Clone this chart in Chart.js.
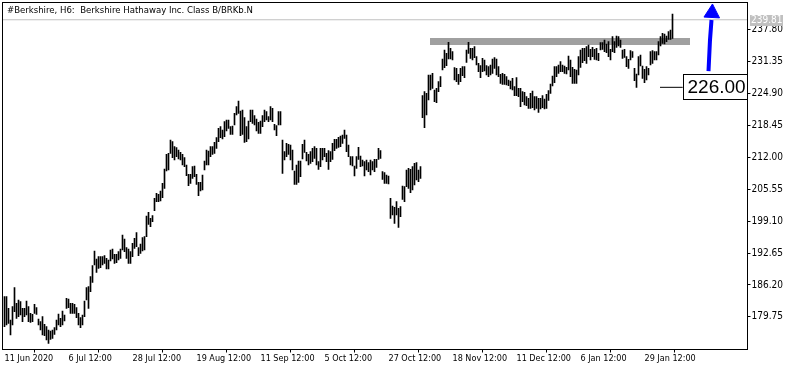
<!DOCTYPE html>
<html><head><meta charset="utf-8">
<script src="https://cdn.jsdelivr.net/npm/chart.js@4.4.0/dist/chart.umd.min.js"></script>
<style>html,body{margin:0;padding:0;background:#fff;}#wrap{width:795px;height:370px;}</style>
</head><body><div id="wrap"><canvas id="c" width="795" height="370"></canvas></div>
<script>
const titleText = "#Berkshire, H6:  Berkshire Hathaway Inc. Class B/BRKb.N";
const lows = [
177.76,178.09,178.43,176.07,178.09,180.79,179.44,179.78,180.12,178.77,
179.78,180.12,178.77,178.63,178.77,180.45,180.25,178.09,177.08,176.07,
175.94,175.06,174.39,175.20,175.40,176.21,177.08,178.09,177.76,178.09,
178.90,181.46,181.60,180.45,180.45,180.45,179.58,178.09,177.56,178.09,
179.78,183.15,181.46,184.83,186.72,190.23,188.74,189.55,189.69,190.23,
190.56,189.42,189.42,191.03,191.44,190.56,190.70,191.24,191.57,193.26,
192.92,191.57,190.56,190.56,191.91,193.59,193.93,192.11,192.58,193.06,
193.26,195.95,198.45,197.97,198.98,201.21,203.03,203.03,203.17,203.84,
205.73,209.23,209.43,212.80,211.93,211.45,212.13,211.66,211.45,210.44,
210.11,208.29,206.26,206.74,207.75,208.09,206.54,204.25,205.19,205.39,
209.43,210.44,210.44,212.13,212.60,212.80,213.81,215.16,215.97,215.70,
216.17,217.32,217.86,216.65,216.65,218.53,220.55,220.89,216.37,216.65,
215.03,215.16,215.70,219.20,218.87,218.53,217.32,216.85,216.85,218.19,
219.20,219.54,219.20,219.54,219.20,217.52,216.37,218.53,218.53,208.76,
211.45,212.13,212.60,211.45,209.43,206.54,206.54,206.94,208.09,211.66,
213.00,211.25,210.44,210.78,211.12,211.79,210.44,209.57,210.10,211.45,
212.13,211.12,209.57,211.12,211.59,213.34,213.81,214.01,214.15,214.82,
215.83,213.14,212.13,210.44,210.24,208.22,209.77,211.59,210.10,210.24,
208.22,209.43,209.09,208.42,209.43,209.09,209.97,211.59,211.79,207.54,
206.73,206.73,206.60,199.66,200.33,198.65,200.33,197.84,199.99,203.50,
203.03,206.06,205.72,204.85,205.39,206.40,207.41,207.07,207.74,220.01,
217.99,220.55,223.59,225.61,225.95,223.25,223.05,225.27,226.28,229.65,
230.12,230.53,231.88,231.88,231.67,227.63,227.29,226.75,227.29,228.51,
228.10,231.20,233.02,232.01,231.67,232.15,230.66,229.32,228.10,229.32,
229.45,228.64,228.30,228.64,228.98,229.99,228.64,228.30,226.96,226.75,
226.75,226.62,226.49,225.81,225.61,224.46,224.46,224.26,222.24,223.25,
222.58,222.44,221.90,221.90,222.04,221.56,221.90,221.09,221.77,222.04,
221.77,221.90,223.50,224.93,226.41,227.09,228.30,228.98,229.31,229.31,
228.98,228.84,229.65,228.30,226.96,226.96,226.96,228.64,230.19,231.13,
231.54,231.00,232.35,231.67,232.35,231.81,231.67,231.54,233.70,233.83,
233.36,233.15,232.35,231.67,233.36,233.15,234.23,234.50,234.23,232.01,
232.21,230.33,229.99,231.67,232.21,227.50,226.15,228.64,230.46,227.97,
227.09,227.63,228.64,230.66,231.00,231.67,231.67,232.68,234.50,235.04,
234.91,235.38,235.85,235.85,236.05
];
const highs = [
183.82,183.82,181.46,179.11,181.80,185.64,182.47,183.15,182.81,181.46,
181.46,182.95,181.80,180.45,180.25,182.27,181.60,179.31,178.77,179.78,
178.23,177.76,177.08,176.88,177.08,177.56,179.11,180.32,179.44,180.92,
180.12,183.49,183.35,182.47,182.47,182.27,181.60,180.45,179.58,180.12,
182.95,185.64,185.85,187.87,190.09,193.06,191.44,191.91,191.91,191.91,
192.11,191.57,191.24,193.26,193.46,192.38,192.38,192.92,193.46,196.29,
195.48,193.73,193.46,192.92,194.61,195.62,196.76,193.73,194.47,195.75,
195.95,200.13,200.87,199.66,200.20,203.70,204.72,204.51,205.19,206.74,
209.63,212.60,212.80,215.50,215.16,214.15,213.95,213.48,213.00,212.60,
211.93,210.44,208.56,208.56,210.11,210.24,208.56,206.94,206.94,208.42,
211.25,213.48,213.27,214.15,214.15,215.03,215.97,217.86,218.19,217.52,
219.20,219.54,219.54,218.19,218.33,220.89,222.24,223.38,221.36,221.56,
220.01,218.19,219.34,221.56,221.56,220.42,219.74,219.07,219.34,220.42,
221.56,221.23,220.22,222.24,221.90,218.67,218.40,221.23,221.23,215.50,
213.14,214.82,214.62,214.49,213.48,209.23,210.44,211.25,211.25,214.62,
215.50,213.00,212.60,213.14,213.81,214.15,213.81,211.12,213.81,213.81,
213.81,212.80,213.34,213.14,214.82,215.63,215.63,216.04,216.31,216.51,
217.52,216.51,214.49,212.13,212.13,210.24,212.13,214.01,212.26,211.45,
211.12,211.45,210.91,211.45,211.12,211.59,211.59,213.81,213.34,209.09,
208.89,208.42,208.22,203.70,202.15,201.88,203.03,201.68,202.02,206.19,
206.06,209.43,209.77,209.57,210.10,210.78,210.91,209.43,210.10,224.46,
225.27,224.93,228.64,228.64,228.98,225.61,225.95,227.29,228.30,231.88,
233.70,233.02,235.25,234.03,233.36,230.12,229.99,228.78,229.99,230.33,
230.33,233.70,235.25,234.03,234.03,234.37,232.35,231.00,230.53,232.01,
231.67,230.53,230.33,230.66,231.88,232.15,231.88,230.33,228.78,228.98,
228.78,228.30,227.63,227.43,227.97,226.28,228.10,225.95,225.95,225.27,
225.14,224.26,223.92,224.93,225.41,224.26,224.26,223.92,223.92,224.46,
223.79,224.73,225.50,226.82,228.44,230.33,230.33,230.66,231.34,230.66,
230.46,230.19,232.48,231.67,230.19,229.78,229.65,232.35,233.70,234.03,
234.03,234.37,234.71,233.83,234.23,233.83,234.03,233.02,235.18,235.18,
235.72,234.91,235.38,233.83,236.39,235.38,236.52,236.39,235.72,233.70,
233.83,232.35,231.81,233.56,233.36,229.99,228.84,232.35,232.68,230.46,
229.78,230.33,229.99,233.36,233.56,233.36,233.36,235.38,236.39,237.06,
236.93,236.52,237.40,237.74,240.97
];
const xTickIdx = [-1,31,63,95,127,159,191,223,255,287,319];
const xTickLabels = ["11 Jun 2020","6 Jul 12:00","28 Jul 12:00","19 Aug 12:00","11 Sep 12:00","5 Oct 12:00","27 Oct 12:00","18 Nov 12:00","11 Dec 12:00","6 Jan 12:00","29 Jan 12:00"];
const yTickValues = [179.75,186.20,192.65,199.10,205.55,212.00,218.45,224.90,231.35,237.80];
const lastPrice = 239.81;
const resistX = [212.75, 342.75];
const resistY = 235.41;
const markPrice = 226.00;
const markLineX = [327.75, 339.1];
const markLineY = 226.15;
const markBoxX = [339.1, 371.1];
const markBoxY = [223.73, 228.84];
const arrowX = [352.0, 352.75, 353.5];
const arrowY = [229.44, 235.72, 239.76];
const arrowHeadX = 353.75;
const arrowHeadY = 241.18;
const xRange = [-1, 371.5];
const yRange = [173.14, 243.30];

const FAM = "Tahoma, 'DejaVu Sans Condensed', 'Liberation Sans', sans-serif";
const yFont = {family:FAM, size:10};
const xFont = {family:FAM, size:9};

const decor = {
  id:'decor',
  afterDatasetsDraw(chart){
    const {ctx, chartArea:a, scales:{x,y}} = chart;
    ctx.save();
    ctx.strokeStyle='#000'; ctx.lineWidth=1;
    ctx.strokeRect(a.left, a.top, a.right-a.left, a.bottom-a.top);
    ctx.fillStyle='#000'; ctx.font="9.5px "+FAM; ctx.textAlign='left'; ctx.textBaseline='alphabetic';
    ctx.fillText(titleText, a.left+4.5, a.top+10.5);
    const bx0=Math.round(x.getPixelForValue(markBoxX[0]))+0.5, bx1=Math.round(x.getPixelForValue(markBoxX[1]))+0.5;
    const by0=Math.round(y.getPixelForValue(markBoxY[1]))+0.5, by1=Math.round(y.getPixelForValue(markBoxY[0]))+0.5;
    ctx.fillStyle='#fff'; ctx.fillRect(bx0,by0,bx1-bx0,by1-by0);
    ctx.strokeStyle='#000'; ctx.strokeRect(bx0,by0,bx1-bx0,by1-by0);
    ctx.fillStyle='#000'; ctx.font="19px 'Liberation Sans', Arial, sans-serif"; ctx.textBaseline='middle';
    ctx.fillText(markPrice.toFixed(2), bx0+4, (by0+by1)/2+1);
    const ly = y.getPixelForValue(lastPrice);
    ctx.fillStyle='#c0c0c0'; ctx.fillRect(a.right+2.5, Math.round(ly)-5, 33, 11);
    ctx.fillStyle='#fff'; ctx.font="10px "+FAM; ctx.textBaseline='middle';
    ctx.fillText(lastPrice.toFixed(2), a.right+3.5, Math.round(ly)+0.5);
    ctx.restore();
  }
};

new Chart(document.getElementById('c'), {
  type:'bar',
  data:{datasets:[
    {type:'bar', order:0, data: lows.map((l,i)=>({x:i, y:[l, highs[i]]})), backgroundColor:'#000', borderWidth:0, barThickness:1, grouped:false},
    {type:'line', order:3, data: xRange.map(v=>({x:v, y:lastPrice})), borderColor:'#c0c0c0', borderWidth:1, pointRadius:0},
    {type:'line', order:2, data: resistX.map(v=>({x:v, y:resistY})), borderColor:'#a0a0a0', borderWidth:7, pointRadius:0, borderCapStyle:'butt'},
    {type:'line', order:1, data: markLineX.map(v=>({x:v, y:markLineY})), borderColor:'#000', borderWidth:1, pointRadius:0},
    {type:'line', order:1, data: arrowX.map((v,i)=>({x:v, y:arrowY[i]})), borderColor:'#0000ff', borderWidth:4, pointRadius:0, tension:0},
    {type:'scatter', order:1, data:[{x:arrowHeadX, y:arrowHeadY}], pointStyle:'triangle', radius:9, rotation:3, backgroundColor:'#0000ff', borderColor:'#0000ff', borderWidth:1}
  ]},
  options:{
    responsive:false, animation:false, devicePixelRatio:1,
    layout:{autoPadding:false, padding:{left:2.5, top:2.5, right:0, bottom:0}},
    plugins:{legend:{display:false}, tooltip:{enabled:false}},
    scales:{
      x:{type:'linear', min:xRange[0], max:xRange[1], offset:false,
        grid:{display:true, drawOnChartArea:false, drawTicks:true, tickLength:3, color:'#000'},
        border:{display:true, color:'#000'},
        ticks:{autoSkip:false, maxRotation:0, minRotation:0, align:'start', labelOffset:2, padding:1, font:xFont, color:'#000',
          callback:(v,i)=>xTickLabels[i]},
        afterBuildTicks: s => { s.ticks = xTickIdx.map(v=>({value:v})); },
        afterFit: s => { s.height = 20.5; s.paddingLeft = 0; s.paddingRight = 0; s.paddingTop = 0; s.paddingBottom = 0; }
      },
      y:{type:'linear', position:'right', min:yRange[0], max:yRange[1],
        grid:{display:true, drawOnChartArea:false, drawTicks:true, tickLength:3, color:'#000'},
        border:{display:true, color:'#000'},
        ticks:{padding:1, font:yFont, color:'#000', callback:v=>Number(v).toFixed(2)},
        afterBuildTicks: s => { s.ticks = yTickValues.map(v=>({value:v})); },
        afterFit: s => { s.width = 47.5; s.paddingLeft = 0; s.paddingRight = 0; s.paddingTop = 0; s.paddingBottom = 0; }
      }
    }
  },
  plugins:[decor]
});
</script></body></html>
